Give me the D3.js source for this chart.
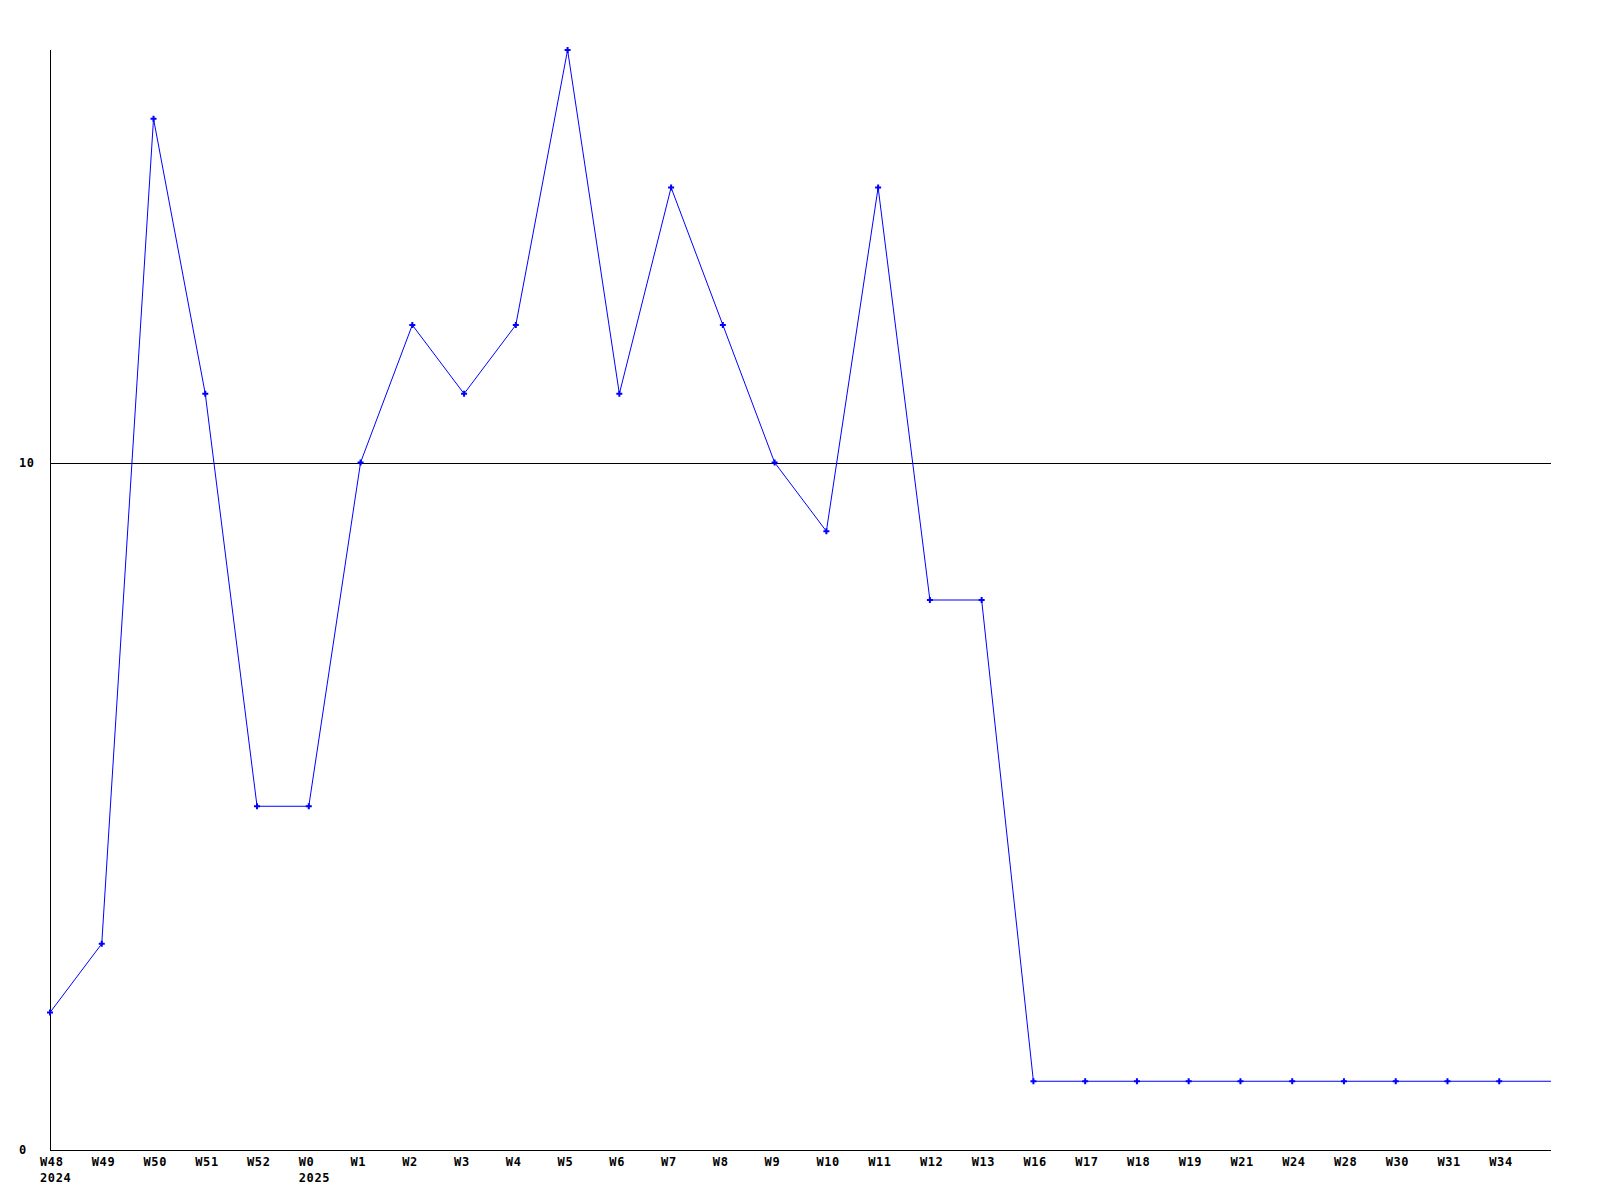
<!DOCTYPE html>
<html><head><meta charset="utf-8">
<script src="https://cdn.jsdelivr.net/npm/d3@7"></script>
<style>body{margin:0;background:#fff}svg text{font-family:"DejaVu Sans Mono","Liberation Mono",monospace;font-weight:bold;font-size:12px;letter-spacing:0.6px}</style>
</head><body>
<script>
const categories = ["W48","W49","W50","W51","W52","W0","W1","W2","W3","W4","W5","W6","W7","W8","W9","W10","W11","W12","W13","W16","W17","W18","W19","W21","W24","W28","W30","W31","W34",""];
const yearLabels = ["2024","","","","","2025","","","","","","","","","","","","","","","","","","","","","","","",""];
const values = [2,3,15,11,5,5,10,12,11,12,16,11,14,12,10,9,14,8,8,1,1,1,1,1,1,1,1,1,1,1];
const yTicks = [0,10];

const W=1600,H=1200, L=50, R=1551, T=50, B=1150;
const svg=d3.select("body").append("svg").attr("width",W).attr("height",H);
const x=d3.scalePoint().domain(d3.range(categories.length)).range([L,R]);
const y=d3.scaleLinear().domain([0,16]).range([B,T]);

svg.append("g").selectAll("line").data(yTicks.filter(d=>d>0)).join("line")
  .attr("x1",L).attr("x2",R).attr("y1",d=>Math.round(y(d))+0.5).attr("y2",d=>Math.round(y(d))+0.5)
  .attr("stroke","#000").attr("stroke-width",1);
svg.append("line").attr("x1",L+0.5).attr("x2",L+0.5).attr("y1",T).attr("y2",B).attr("stroke","#000");
svg.append("line").attr("x1",L).attr("x2",R).attr("y1",B+0.5).attr("y2",B+0.5).attr("stroke","#000");
svg.append("g").selectAll("text").data(yTicks).join("text")
  .attr("x",19).attr("y",d=>y(d)+4).text(d=>d);
const xl=svg.append("g");
xl.selectAll("text.c").data(categories).join("text").attr("class","c")
  .attr("x",(d,i)=>x(i)-10).attr("y",1166).text(d=>d);
xl.selectAll("text.y").data(yearLabels).join("text").attr("class","y")
  .attr("x",(d,i)=>x(i)-10).attr("y",1182).text(d=>d);
const line=d3.line().x((d,i)=>x(i)).y(d=>y(d));
svg.append("path").datum(values).attr("d",line).attr("fill","none").attr("stroke","#0000ff").attr("stroke-width",1);
const sym=d3.symbol().type(d3.symbolCross).size(20);
svg.append("g").selectAll("path").data(values.slice(0,categories.length-1)).join("path")
  .attr("transform",(d,i)=>`translate(${x(i)},${y(d)})`).attr("d",sym).attr("fill","#0000ff");
</script>
</body></html>
